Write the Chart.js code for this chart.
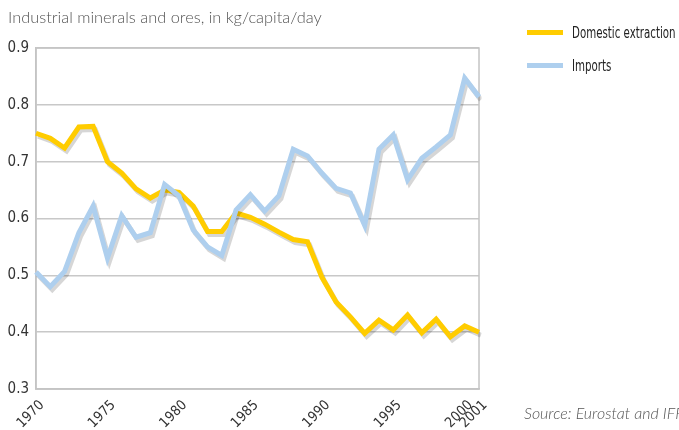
<!DOCTYPE html>
<html>
<head>
<meta charset="utf-8">
<script src="https://cdn.jsdelivr.net/npm/chart.js@4"></script>
<style>
  body { margin: 0; background: #fff; }
  #wrap { position: relative; width: 679px; height: 430px; }
  #title { position: absolute; left: 8px; top: 7px; font: 300 16.4px "Lato", sans-serif; color: #555; white-space: nowrap; }
  .leg { position: absolute; left: 527px; font: 15px "DejaVu Sans Condensed", sans-serif; color: #222; white-space: nowrap; }
  .leg span { display: inline-block; width: 36px; height: 5px; vertical-align: middle; margin-right: 9px; }
  .leg b { display: inline-block; font-weight: normal; transform: scaleX(0.76); transform-origin: left center; vertical-align: middle; }
  #source { position: absolute; left: 524px; top: 403px; font: italic 300 16px "Lato", sans-serif; color: #555; white-space: nowrap; }
</style>
</head>
<body>
<div id="wrap">
  <canvas id="chart" width="679" height="430"></canvas>
  <div id="title">Industrial minerals and ores, in kg/capita/day</div>
  <div class="leg" style="top:23px"><span style="background:#ffcc00"></span><b>Domestic extraction</b></div>
  <div class="leg" style="top:56px"><span style="background:#aecfee"></span><b>Imports</b></div>
  <div id="source">Source: Eurostat and IFF</div>
</div>
<script>
const years = [];
for (let y = 1970; y <= 2001; y++) years.push(String(y));
const shownYears = ["1970", "1975", "1980", "1985", "1990", "1995", "2000", "2001"];

const domestic = [0.750, 0.741, 0.724, 0.761, 0.762, 0.700, 0.680, 0.652, 0.636, 0.650,
                  0.646, 0.622, 0.577, 0.577, 0.610, 0.602, 0.590, 0.576, 0.563, 0.559,
                  0.497, 0.453, 0.427, 0.398, 0.421, 0.404, 0.430, 0.399, 0.423, 0.392,
                  0.411, 0.400];
const imports = [0.506, 0.480, 0.507, 0.575, 0.622, 0.530, 0.605, 0.567, 0.575, 0.660,
                 0.640, 0.580, 0.550, 0.535, 0.615, 0.642, 0.613, 0.640, 0.722, 0.710,
                 0.680, 0.653, 0.645, 0.588, 0.722, 0.747, 0.668, 0.706, 0.726, 0.747,
                 0.847, 0.814];

// grey drop shadow under each line
const shadow = {
  id: "shadow",
  beforeDatasetDraw(chart) {
    const ctx = chart.ctx;
    ctx.save();
    ctx.shadowColor = "rgba(0,0,0,0.16)";
    ctx.shadowOffsetX = 2;
    ctx.shadowOffsetY = 3;
    ctx.shadowBlur = 0;
  },
  afterDatasetDraw(chart) {
    chart.ctx.restore();
  }
};

const frame = {
  id: "frame",
  beforeDatasetsDraw(chart) {
    const { ctx, chartArea: a } = chart;
    ctx.save();
    ctx.strokeStyle = "#c4c4c4";
    ctx.lineWidth = 1.5;
    ctx.strokeRect(a.left, a.top, a.right - a.left, a.bottom - a.top);
    ctx.restore();
  }
};

new Chart(document.getElementById("chart"), {
  type: "line",
  data: {
    labels: years,
    datasets: [
      { label: "Imports", data: imports, borderColor: "#aecfee", borderWidth: 5, pointRadius: 0, tension: 0 },
      { label: "Domestic extraction", data: domestic, borderColor: "#ffcc00", borderWidth: 5, pointRadius: 0, tension: 0 }
    ]
  },
  options: {
    responsive: false,
    animation: false,
    layout: { padding: { top: 48, right: 200, left: 0, bottom: 0 } },
    plugins: { legend: { display: false }, tooltip: { enabled: false } },
    scales: {
      x: {
        offset: false,
        grid: { display: false },
        border: { color: "#c4c4c4", width: 1.5 },
        afterFit: (s) => { s.height = 41; },
        ticks: {
          autoSkip: false,
          minRotation: 45,
          maxRotation: 45,
          padding: 0,
          labelOffset: 6,
          color: "#333",
          font: { family: "DejaVu Sans Condensed", size: 14 },
          callback: function (v) {
            const l = this.getLabelForValue(v);
            return shownYears.includes(l) ? l : null;
          }
        }
      },
      y: {
        min: 0.3,
        max: 0.9,
        afterFit: (s) => { s.width = 36; },
        grid: { color: "#c8c8c8", lineWidth: 1.5, drawTicks: false },
        border: { color: "#c4c4c4", width: 1.5 },
        ticks: {
          stepSize: 0.1,
          padding: 7,
          color: "#333",
          font: { family: "DejaVu Sans Condensed", size: 15 },
          callback: (v) => v.toFixed(1)
        }
      }
    }
  },
  plugins: [frame, shadow]
});
</script>
</body>
</html>
